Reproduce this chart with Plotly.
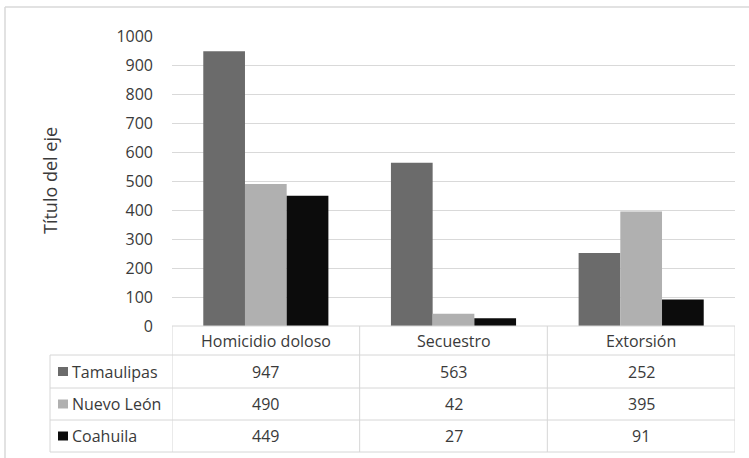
import plotly.graph_objects as go

# Delitos por entidad
categories = ["Homicidio doloso", "Secuestro", "Extorsión"]
series_names = ["Tamaulipas", "Nuevo León", "Coahuila"]
tamaulipas = [947, 563, 252]
nuevo_leon = [490, 42, 395]
coahuila = [449, 27, 91]
y_ticks = [0, 100, 200, 300, 400, 500, 600, 700, 800, 900, 1000]

series_values = [tamaulipas, nuevo_leon, coahuila]
colors = ["#6b6b6b", "#b0b0b0", "#0c0c0c"]

W, H = 749, 458
FONT = "Open Sans"
TEXT = "#3a3a3a"
LINE = "#d6d6d6"
SIZE = 16


def px(x):
    return x / W


def py(y):
    return 1 - y / H


# pixel layout of the plot area and the data table
PLOT_L, PLOT_R = 172, 735
PLOT_T, PLOT_B = 36, 326
ROW_EDGES = [326, 355, 388, 420, 452]
LEG_L = 50

fig = go.Figure()
for name, vals, col in zip(series_names, series_values, colors):
    fig.add_bar(x=list(range(len(categories))), y=vals, name=name,
                marker=dict(color=col, line=dict(width=0)))

shapes = []
annotations = []

# outer chart border (top and left edges; the rest runs off the page)
shapes.append(dict(type="line", xref="paper", yref="paper",
                   x0=px(5), x1=1, y0=py(7), y1=py(7),
                   line=dict(color="#d9d9d9", width=1.5)))
shapes.append(dict(type="line", xref="paper", yref="paper",
                   x0=px(5), x1=px(5), y0=0, y1=py(7),
                   line=dict(color="#d9d9d9", width=1.5)))

# table horizontal lines
shapes.append(dict(type="line", xref="x", yref="paper",
                   x0=-0.5, x1=len(categories) - 0.5,
                   y0=py(ROW_EDGES[0]), y1=py(ROW_EDGES[0]),
                   line=dict(color=LINE, width=1)))
for ye in ROW_EDGES[1:]:
    shapes.append(dict(type="line", xref="paper", yref="paper",
                       x0=px(LEG_L), x1=px(PLOT_R), y0=py(ye), y1=py(ye),
                       line=dict(color=LINE, width=1)))

# table vertical lines (category boundaries)
for k in range(len(categories) + 1):
    xb = k - 0.5
    shapes.append(dict(type="line", xref="x", yref="paper",
                       x0=xb, x1=xb, y0=py(ROW_EDGES[0]), y1=py(ROW_EDGES[-1]),
                       line=dict(color=LINE, width=1)))
shapes.append(dict(type="line", xref="paper", yref="paper",
                   x0=px(LEG_L), x1=px(LEG_L),
                   y0=py(ROW_EDGES[1]), y1=py(ROW_EDGES[-1]),
                   line=dict(color=LINE, width=1)))

# header row: category names
hy = (ROW_EDGES[0] + ROW_EDGES[1]) / 2
for i, cat in enumerate(categories):
    annotations.append(dict(x=i, y=py(hy), xref="x", yref="paper",
                            xanchor="center", yanchor="middle",
                            text=cat, showarrow=False,
                            font=dict(family=FONT, size=SIZE, color=TEXT)))

# data rows with legend keys
for r, (name, vals, col) in enumerate(zip(series_names, series_values, colors)):
    ry = (ROW_EDGES[r + 1] + ROW_EDGES[r + 2]) / 2
    shapes.append(dict(type="rect", xref="paper", yref="paper",
                       x0=px(58), x1=px(68), y0=py(ry + 4.5), y1=py(ry - 4.5),
                       fillcolor=col, line=dict(width=0)))
    annotations.append(dict(x=px(70), y=py(ry), xref="paper", yref="paper",
                            text=name, showarrow=False,
                            xanchor="left", yanchor="middle",
                            font=dict(family=FONT, size=SIZE, color=TEXT)))
    for i, v in enumerate(vals):
        annotations.append(dict(x=i, y=py(ry), xref="x", yref="paper",
                                xanchor="center", yanchor="middle",
                                text=str(v), showarrow=False,
                                font=dict(family=FONT, size=SIZE, color=TEXT)))

# axis title
annotations.append(dict(x=px(50), y=py((PLOT_T + PLOT_B) / 2),
                        xref="paper", yref="paper", text="Título del eje",
                        xanchor="center", yanchor="middle",
                        textangle=-90, showarrow=False,
                        font=dict(family=FONT, size=18, color=TEXT)))

fig.update_layout(
    template="none",
    width=W, height=H,
    margin=dict(l=0, r=0, t=0, b=0, pad=0, autoexpand=False),
    paper_bgcolor="white", plot_bgcolor="white",
    barmode="group", bargap=1.5 / 4.5, bargroupgap=0,
    showlegend=False,
    font=dict(family=FONT, size=SIZE, color=TEXT),
    xaxis=dict(domain=[px(PLOT_L), px(PLOT_R)], range=[-0.5, len(categories) - 0.5],
               showticklabels=False, showgrid=False, zeroline=False,
               showline=False, ticks="", automargin=False, fixedrange=True),
    yaxis=dict(domain=[py(PLOT_B), py(PLOT_T)], range=[0, 1000],
               tickvals=y_ticks, ticktext=[str(t) for t in y_ticks],
               showgrid=True, gridcolor="#d9d9d9", gridwidth=1,
               zeroline=False, showline=False, ticks="", automargin=False,
               ticklabelstandoff=18,
               tickfont=dict(family=FONT, size=SIZE, color=TEXT)),
    shapes=shapes,
    annotations=annotations,
)

fig.write_html("out.html")
